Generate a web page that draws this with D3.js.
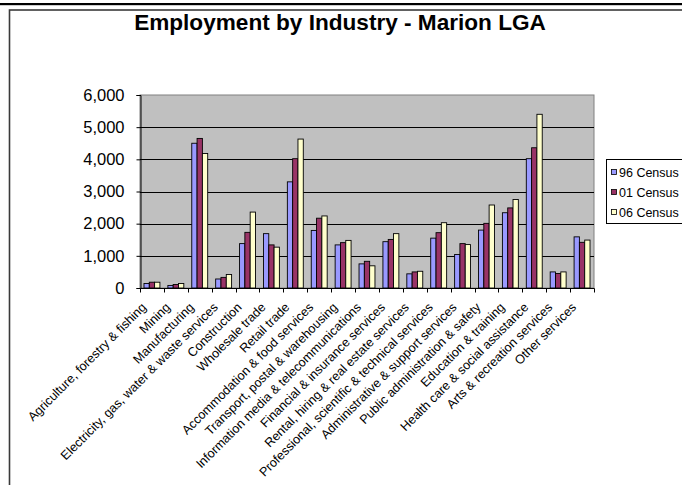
<!DOCTYPE html>
<html>
<head>
<meta charset="utf-8">
<script src="https://cdn.jsdelivr.net/npm/d3@7"></script>
<style>
  html, body { margin: 0; padding: 0; background: #fff; }
  svg { display: block; }
  text { font-family: "Liberation Sans", Arial, Helvetica, sans-serif; fill: #000; }
</style>
</head>
<body>
<svg id="chart" width="682" height="485"></svg>
<script>
// Employment by industry, Marion LGA — census counts
const industries = [
  "Agriculture, forestry & fishing",
  "Mining",
  "Manufacturing",
  "Electricity, gas, water & waste services",
  "Construction",
  "Wholesale trade",
  "Retail trade",
  "Accommodation & food services",
  "Transport, postal & warehousing",
  "Information media & telecommunications",
  "Financial & insurance services",
  "Rental, hiring & real estate services",
  "Professional, scientific & technical services",
  "Administrative & support services",
  "Public administration & safety",
  "Education & training",
  "Health care & social assistance",
  "Arts & recreation services",
  "Other services"
];
const seriesNames = ["96 Census", "01 Census", "06 Census"];
const census96 = [140, 80, 4500, 280, 1380, 1690, 3300, 1790, 1340, 750, 1440, 440, 1550, 1040, 1800, 2340, 4020, 500, 1590];
const census01 = [180, 110, 4650, 330, 1730, 1340, 4020, 2170, 1410, 830, 1510, 500, 1720, 1380, 2010, 2490, 4360, 450, 1420];
const census06 = [180, 140, 4180, 420, 2360, 1270, 4630, 2240, 1480, 690, 1690, 520, 2030, 1350, 2580, 2750, 5400, 500, 1490];
const yTicks = [0, 1000, 2000, 3000, 4000, 5000, 6000];
const seriesColors = ["#9999ff", "#993366", "#ffffcc"];

const series = [census96, census01, census06];

const svg = d3.select("#chart");

// page rule and chart frame
svg.append("rect").attr("x", 0).attr("y", 3).attr("width", 682).attr("height", 2.2).attr("fill", "#000");
svg.append("rect")
  .attr("x", 9.5).attr("y", 10).attr("width", 700).attr("height", 500)
  .attr("fill", "#fff").attr("stroke", "#3a3a3a").attr("stroke-width", 1.6);

// title
svg.append("text")
  .attr("x", 340).attr("y", 30)
  .attr("text-anchor", "middle")
  .style("font-weight", "bold").style("font-size", "22.6px")
  .text("Employment by Industry - Marion LGA");

const plot = { left: 140, right: 594, top: 95, bottom: 288 };

const x = d3.scaleBand().domain(industries).range([plot.left, plot.right]).padding(0);
const y = d3.scaleLinear().domain([0, 6000]).range([plot.bottom, plot.top]);

// plot area
svg.append("rect")
  .attr("x", plot.left).attr("y", plot.top)
  .attr("width", plot.right - plot.left).attr("height", plot.bottom - plot.top)
  .attr("fill", "#c0c0c0").attr("stroke", "#808080").attr("stroke-width", 1);

// gridlines
svg.append("g").selectAll("line").data(yTicks.filter(d => d > 0 && d < 6000)).join("line")
  .attr("x1", plot.left).attr("x2", plot.right)
  .attr("y1", d => Math.round(y(d)) + 0.5).attr("y2", d => Math.round(y(d)) + 0.5)
  .attr("stroke", "#000").attr("stroke-width", 1);

// bars: three per category, 150% gap between groups
const bw = x.bandwidth();
const barW = bw / 4.5;
const groups = svg.append("g").selectAll("g").data(industries).join("g")
  .attr("transform", d => `translate(${x(d) + barW * 0.75},0)`);
groups.selectAll("rect")
  .data((d, i) => series.map((s, k) => ({ k, v: s[i] })))
  .join("rect")
  .attr("x", d => d.k * barW)
  .attr("y", d => y(d.v))
  .attr("width", barW)
  .attr("height", d => y(0) - y(d.v))
  .attr("fill", d => seriesColors[d.k])
  .attr("stroke", "#000").attr("stroke-width", 0.9);

// y axis
const yAxis = d3.axisLeft(y).tickValues(yTicks).tickSize(4).tickPadding(12)
  .tickFormat(d3.format(","));
const gy = svg.append("g").attr("transform", `translate(${plot.left + 0.5},0)`).call(yAxis);
gy.select(".domain").attr("stroke", "#000");
gy.selectAll(".tick line").attr("stroke", "#000");
gy.selectAll(".tick text")
  .style("font-size", "16.5px").style("font-family", "'Liberation Sans', Arial, sans-serif")
  .attr("fill", "#000");

// x axis: ticks at category boundaries
const gx = svg.append("g").attr("transform", `translate(0,${plot.bottom + 0.5})`);
gx.append("line").attr("x1", plot.left).attr("x2", plot.right + 0.5).attr("stroke", "#000");
const bounds = industries.map(d => x(d)).concat([plot.right]);
gx.selectAll("line.tk").data(bounds).join("line").attr("class", "tk")
  .attr("x1", d => Math.round(d) + 0.5).attr("x2", d => Math.round(d) + 0.5)
  .attr("y1", 0).attr("y2", 4).attr("stroke", "#000");

// rotated category labels
svg.append("g").selectAll("text").data(industries).join("text")
  .attr("transform", d => `translate(${x(d) + bw / 2 - 5},${plot.bottom + 20}) rotate(-45)`)
  .attr("text-anchor", "end")
  .style("font-size", "12.6px")
  .text(d => d);

// legend
const lg = svg.append("g").attr("transform", "translate(606,159)");
lg.append("rect").attr("x", 0.5).attr("y", 0.5).attr("width", 100).attr("height", 64)
  .attr("fill", "#fff").attr("stroke", "#000").attr("stroke-width", 1);
const items = lg.selectAll("g").data(seriesNames).join("g")
  .attr("transform", (d, i) => `translate(0,${13 + i * 20})`);
items.append("rect").attr("x", 5.5).attr("y", -2.5).attr("width", 5).attr("height", 5)
  .attr("fill", (d, i) => seriesColors[i]).attr("stroke", "#000").attr("stroke-width", 0.8);
items.append("text").attr("x", 13).attr("y", 4.5)
  .style("font-size", "12.5px").text(d => d);
</script>
</body>
</html>
